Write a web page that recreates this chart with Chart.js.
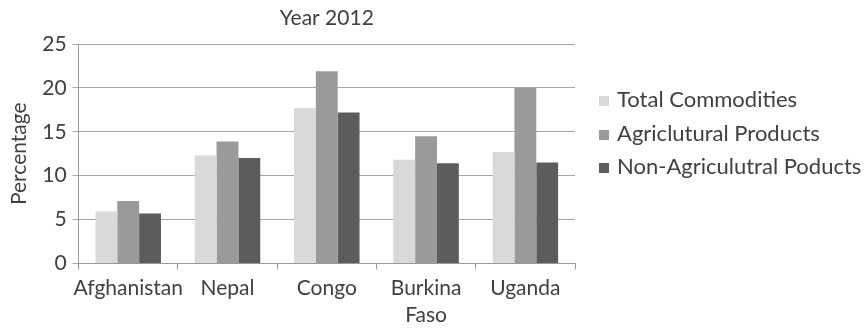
<!DOCTYPE html>
<html lang="en">
<head>
  <meta charset="UTF-8">
  <title>Year 2012</title>
  <script src="https://cdn.jsdelivr.net/npm/chart.js"></script>
  <style>
    html, body { margin: 0; padding: 0; background: #fff; }
    #wrap { position: relative; width: 866px; height: 334px; }
    #legend { position: absolute; left: 599px; top: 82px; font-family: Lato, "Open Sans", sans-serif; font-size: 22px; color: #404040; }
    #legend div { height: 33.5px; line-height: 33.5px; white-space: nowrap; }
    #legend span { display: inline-block; width: 10px; height: 10px; margin-right: 8px; vertical-align: 1px; }
  </style>
</head>
<body>
  <div id="wrap">
    <canvas id="chart"></canvas>
    <div id="legend"></div>
  </div>

  <script>
    // data
    const countries = ['Afghanistan', 'Nepal', 'Congo', ['Burkina', 'Faso'], 'Uganda'];
    const seriesNames = ['Total Commodities', 'Agriclutural Products', 'Non-Agriculutral Poducts'];
    const totalCommodities = [5.9, 12.3, 17.7, 11.8, 12.7];
    const agriProducts = [7.1, 13.9, 21.9, 14.5, 20.0];
    const nonAgriProducts = [5.7, 12.0, 17.2, 11.4, 11.5];
    const yTicks = [0, 5, 10, 15, 20, 25];

    const colors = ['#d9d9d9', '#9a9a9a', '#5c5c5c'];
    const textColor = '#404040';
    const fontFamily = 'Lato, "Open Sans", sans-serif';

    // title centred over the plot area, like the original
    const areaTitle = {
      id: 'areaTitle',
      afterDraw(chart) {
        const { ctx, chartArea } = chart;
        ctx.save();
        ctx.fillStyle = textColor;
        ctx.font = '21px ' + fontFamily;
        ctx.textAlign = 'center';
        ctx.textBaseline = 'middle';
        ctx.fillText('Year 2012', (chartArea.left + chartArea.right) / 2, 18);
        ctx.restore();
      }
    };

    const chart = new Chart(document.getElementById('chart'), {
      type: 'bar',
      data: {
        labels: countries,
        datasets: [
          { label: seriesNames[0], data: totalCommodities, backgroundColor: colors[0] },
          { label: seriesNames[1], data: agriProducts, backgroundColor: colors[1] },
          { label: seriesNames[2], data: nonAgriProducts, backgroundColor: colors[2] }
        ]
      },
      options: {
        responsive: true,
        maintainAspectRatio: false,
        animation: false,
        layout: { padding: { top: 44, right: 291, left: 3, bottom: 0 } },
        datasets: { bar: { categoryPercentage: 0.66, barPercentage: 1 } },
        scales: {
          x: {
            grid: { offset: true, drawOnChartArea: false, tickLength: 6, color: '#999' },
            border: { color: '#999' },
            ticks: { color: textColor, font: { family: fontFamily, size: 21, lineHeight: 1.3 }, maxRotation: 0, autoSkip: false, padding: 5 }
          },
          y: {
            min: 0,
            max: 25,
            afterBuildTicks(axis) { axis.ticks = yTicks.map(v => ({ value: v })); },
            grid: { color: '#a6a6a6', tickLength: 6 },
            border: { color: '#999' },
            ticks: { color: textColor, font: { family: fontFamily, size: 21 }, padding: 6 },
            title: { display: true, text: 'Percentage', color: textColor, font: { family: fontFamily, size: 21 }, padding: 4 }
          }
        },
        plugins: {
          legend: { display: false },
          tooltip: { enabled: false }
        }
      },
      plugins: [areaTitle]
    });

    // legend as plain text next to the plot
    const legendEl = document.getElementById('legend');
    chart.data.datasets.forEach(ds => {
      const row = document.createElement('div');
      const box = document.createElement('span');
      box.style.background = ds.backgroundColor;
      row.appendChild(box);
      row.appendChild(document.createTextNode(ds.label));
      legendEl.appendChild(row);
    });
  </script>
</body>
</html>
